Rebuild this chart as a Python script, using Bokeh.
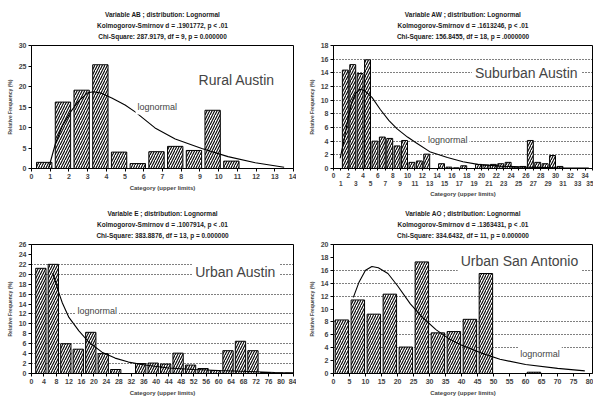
from bokeh.plotting import figure
from bokeh.layouts import column, row
from bokeh.models import Label, Range1d, FixedTicker, Title, AllLabels
from bokeh.embed import file_html
from bokeh.resources import INLINE

FONT = "Liberation Sans"

# ---- Rural Austin (variable AB), class width 1 ----
rural_upper = [1, 2, 3, 4, 5, 6, 7, 8, 9, 10, 11, 12, 13, 14]
rural_freq = [1.5, 16.2, 19.1, 25.3, 4.0, 1.2, 4.1, 5.4, 4.4, 14.2, 1.8, 0.0, 0.0, 0.0]
rural_fit_x = [0.93, 1.28, 1.64, 2.09, 2.53, 2.98, 3.3, 3.7, 4.29, 5.0, 5.54, 6.6, 7.68, 9.1, 10.5, 11.96, 13.5]
rural_fit_y = [0.3, 6.1, 10.3, 13.8, 16.5, 18.4, 18.7, 18.4, 17.2, 15.5, 13.8, 9.9, 7.2, 4.9, 2.9, 1.4, 0.3]
rural_title = ["Variable AB ; distribution: Lognormal",
               "Kolmogorov-Smirnov d = .1901772, p < .01",
               "Chi-Square: 287.9179, df = 9, p = 0.000000"]

# ---- Suburban Austin (variable AW), class width 1 ----
sub_upper = [2, 3, 4, 5, 6, 7, 8, 9, 10, 11, 12, 13, 14, 15, 16, 17, 18,
             19, 20, 21, 22, 23, 24, 25, 26, 27, 28, 29, 30, 31, 32, 33, 34, 35]
sub_freq = [14.4, 15.2, 13.9, 15.9, 4.0, 4.6, 4.4, 3.3, 4.1, 0.9, 1.1, 2.1, 0.0, 0.7, 0.2, 0.1, 0.4,
            0.0, 0.6, 0.5, 0.6, 0.7, 0.9, 0.2, 0.3, 4.1, 0.9, 0.7, 1.9, 0.3, 0.0, 0.0, 0.0, 0.0]
sub_fit_x = [0.9, 1.4, 2.0, 2.5, 3.0, 3.6, 4.2, 5.2, 6.35, 7.5, 8.6, 10.0, 11.1, 13.1, 15.4, 17.5,
             19.5, 22.5, 26.0, 30.0, 34.5]
sub_fit_y = [1.5, 4.0, 7.5, 9.8, 11.0, 11.6, 11.4, 10.4, 8.6, 7.0, 5.8, 4.6, 3.8, 2.4, 1.6, 1.0,
             0.6, 0.35, 0.2, 0.1, 0.05]
sub_ticks = [0, 1, 2, 3, 4, 5, 6, 7, 8, 9, 10, 11, 12, 13, 14, 15, 16, 17,
             18, 19, 20, 21, 22, 23, 24, 25, 26, 27, 28, 29, 30, 31, 32, 33, 34, 35]
sub_title = ["Variable AW ; distribution: Lognormal",
             "Kolmogorov-Smirnov d = .1613246, p < .01",
             "Chi-Square: 156.8455, df = 18, p = .0000000"]

# ---- Urban Austin (variable E), class width 4 ----
ua_upper = [4, 8, 12, 16, 20, 24, 28, 32, 36, 40, 44, 48, 52, 56, 60, 64, 68, 72, 76, 80, 84]
ua_freq = [21.2, 22.0, 6.0, 4.9, 8.3, 4.0, 0.8, 0.0, 2.0, 2.1, 1.9, 4.1, 1.7, 1.0, 0.6,
           4.6, 6.5, 4.6, 0.2, 0.1, 0.1]
ua_fit_x = [6.8, 7.7, 8.8, 9.9, 12.0, 15.2, 18.4, 22.6, 26.8, 31.1, 36.4, 43.9, 52.0, 60.0, 65.0, 72.0, 78.0, 84.0]
ua_fit_y = [20.2, 18.5, 16.2, 14.2, 11.3, 8.6, 6.3, 4.3, 3.1, 2.3, 1.7, 1.1, 0.8, 0.6, 0.5, 0.35, 0.2, 0.1]
ua_title = ["Variable E ; distribution: Lognormal",
            "Kolmogorov-Smirnov d = .1007914, p < .01",
            "Chi-Square: 383.8876, df = 13, p = 0.000000"]

# ---- Urban San Antonio (variable AO), class width 5 ----
sa_upper = [5, 10, 15, 20, 25, 30, 35, 40, 45, 50, 55, 60, 65, 70, 75, 80]
sa_freq = [8.3, 11.4, 9.2, 12.3, 4.1, 17.3, 6.3, 6.5, 8.4, 15.5, 0.0, 0.0, 0.2, 0.0, 0.0, 0.0]
sa_fit_x = [6.2, 8.0, 10.0, 12.0, 14.0, 17.0, 20.0, 24.0, 28.0, 32.0, 36.0, 40.0, 46.0, 52.0, 60.0, 70.0, 78.5]
sa_fit_y = [11.8, 14.2, 16.0, 16.6, 16.4, 15.5, 13.6, 10.8, 8.6, 6.8, 5.4, 4.4, 3.2, 2.2, 1.4, 0.8, 0.4]
sa_title = ["Variable AO ; distribution: Lognormal",
            "Kolmogorov-Smirnov d = .1363431, p < .01",
            "Chi-Square: 334.6432, df = 11, p = 0.000000"]


def style_axis(ax, ticks, label=""):
    ax.ticker = FixedTicker(ticks=ticks)
    ax.axis_label = label
    ax.axis_label_text_font = FONT
    ax.axis_label_text_font_size = "6px"
    ax.axis_label_text_font_style = "bold"
    ax.axis_label_standoff = 3
    ax.major_label_text_font = FONT
    ax.major_label_text_font_size = "7px"
    ax.major_label_text_font_style = "bold"
    ax.major_label_standoff = 2
    ax.major_tick_in = 0
    ax.major_tick_out = 3
    ax.minor_tick_line_color = None
    ax.axis_line_color = "black"
    ax.major_tick_line_color = "black"


def panel(w, h, borders, xr, yr, xticks, yticks, grid, title_lines, title_shift,
          upper, freq, shift, bar_w, fit_x, fit_y, name, name_xy, fit_xy, two_rows=False):
    left, right, top, bottom = borders
    p = figure(width=w, height=h, x_range=Range1d(*xr), y_range=Range1d(*yr),
               output_backend="svg", toolbar_location=None,
               min_border_left=left, min_border_right=right,
               min_border_top=top, min_border_bottom=bottom)
    p.title.visible = False
    # small blank strip between the frame and the heading block
    p.add_layout(Title(text=" ", text_font=FONT, text_font_size="2.5px", standoff=0), "above")
    # three centred heading lines, innermost first
    for line in reversed(title_lines):
        p.add_layout(Title(text=line, align="center", offset=title_shift, text_font=FONT,
                           text_font_size="6.5px", text_font_style="bold",
                           standoff=2, text_color="#1a1a1a"), "above")
    p.outline_line_color = "black"
    p.outline_line_width = 1
    p.background_fill_color = "white"
    p.border_fill_color = "white"

    style_axis(p.yaxis[0], yticks, "Relative Frequency (%)")
    p.yaxis[0].axis_label_text_font_size = "5px"
    style_axis(p.xaxis[0], xticks, "Category (upper limits)")
    if two_rows:
        # even classes on the upper label row, odd classes on the lower one
        ax = p.xaxis[0]
        ax.major_label_policy = AllLabels()
        ax.major_label_overrides = {
            t: (f"{t}\n " if t % 2 == 0 else f" \n{t}") for t in xticks}
        ax.major_tick_out = 2
        ax.major_label_standoff = 1
        ax.major_label_text_font_size = "6.5px"
        ax.major_label_text_line_height = 1.25
        ax.axis_label_standoff = 1

    p.xgrid.visible = False
    if grid:
        p.ygrid.ticker = FixedTicker(ticks=grid)
        p.ygrid.grid_line_color = "black"
        p.ygrid.grid_line_dash = "1 2"
        p.ygrid.grid_line_width = 1
    else:
        p.ygrid.visible = False

    centers = [u - shift for u in upper]
    p.vbar(x=centers, width=bar_w, top=freq, bottom=0,
           fill_color="white", line_color="black", line_width=1,
           hatch_pattern="/", hatch_color="black", hatch_scale=5, hatch_weight=1.1)
    p.line(fit_x, fit_y, line_color="black", line_width=1.1)

    p.add_layout(Label(x=name_xy[0], y=name_xy[1], text=name, text_font=FONT,
                       text_font_size="14px", text_baseline="middle", padding=3,
                       background_fill_color="white", background_fill_alpha=1.0))
    p.add_layout(Label(x=fit_xy[0], y=fit_xy[1], text="lognormal", text_font=FONT,
                       text_font_size="9px", text_baseline="middle", padding=2,
                       background_fill_color="white", background_fill_alpha=1.0))
    return p


p1 = panel(296, 200, (31, 3, 45, 29), (0, 14), (0, 30),
           list(range(0, 15)), [0, 5, 10, 15, 20, 25, 30], [], rural_title, -5,
           rural_upper, rural_freq, 0.32, 0.82, rural_fit_x, rural_fit_y,
           "Rural Austin", (8.77, 21.5), (5.56, 14.9))

p2 = panel(297, 200, (37, 1, 45, 29), (0, 35.0), (0, 18),
           sub_ticks,
           [0, 2, 4, 6, 8, 10, 12, 14, 16, 18], [2, 4, 6, 8, 10, 12, 14, 16], sub_title, 0,
           sub_upper, sub_freq, 0.4, 0.8, sub_fit_x, sub_fit_y,
           "Suburban Austin", (18.7, 14.0), (12.5, 4.1), two_rows=True)

p3 = panel(296, 200, (31, 3, 44, 27), (0, 84), (0, 26),
           [0, 4, 8, 12, 16, 20, 24, 28, 32, 36, 40, 44, 48, 52, 56, 60, 64, 68, 72, 76, 80, 84],
           [0, 2, 4, 6, 8, 10, 12, 14, 16, 18, 20, 22, 24, 26], [2, 4, 6, 10, 12, 16, 20, 22], ua_title, -4,
           ua_upper, ua_freq, 1.0, 3.3, ua_fit_x, ua_fit_y,
           "Urban Austin", (51.5, 20.5), (14.1, 12.6))

p4 = panel(297, 200, (37, 1, 44, 27), (0, 80.9), (0, 20),
           [0, 5, 10, 15, 20, 25, 30, 35, 40, 45, 50, 55, 60, 65, 70, 75, 80],
           [0, 2, 4, 6, 8, 10, 12, 14, 16, 18, 20], [4, 6, 8, 12, 14, 16], sa_title, 0,
           sa_upper, sa_freq, 2.4, 4.2, sa_fit_x, sa_fit_y,
           "Urban San Antonio", (38.8, 17.4), (57.7, 3.1))

layout = column(row(p1, p2), row(p3, p4))
open("out.html", "w").write(file_html(layout, INLINE))
